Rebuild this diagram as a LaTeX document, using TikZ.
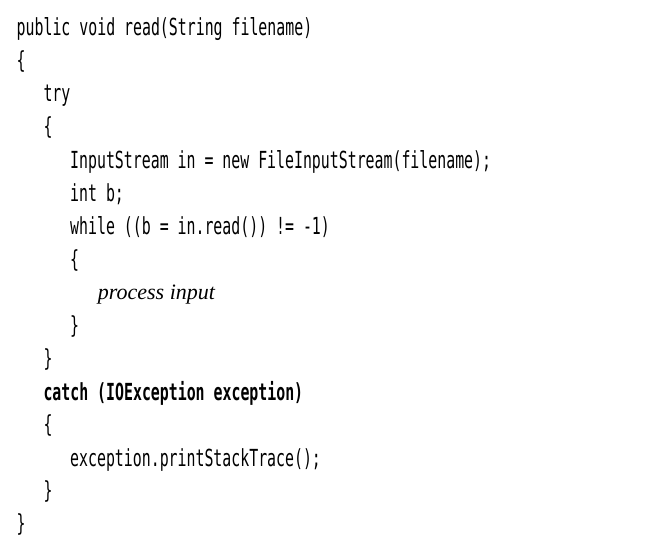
\documentclass[tikz,border=0pt]{standalone}
\usepackage{fontspec}
\newfontfamily\codefont[FakeStretch=0.633]{DejaVu Sans Mono}
\newfontfamily\notefont{Liberation Serif}

\begin{document}
\begin{tikzpicture}[x=1pt,y=-1pt]
        \tikzstyle{code} = [anchor=base west, inner sep=0pt, font={\codefont\fontsize{23.5}{28}\selectfont}]
        \tikzstyle{note} = [anchor=base west, inner sep=0pt, font={\notefont\itshape\fontsize{22}{26}\selectfont}]

        \useasboundingbox[fill=white] (0,0) rectangle (652,553);

        % method header
        \node[code] (head) at (16.5,35.5) {public void read(String filename)};
        \node[code] (open) at (16.5,68.5) {\{};

        % try block
        \node[code] (try) at (43.3,101.5) {try};
        \node[code] (tryopen) at (43.3,134.5) {\{};
        \node[code] (stream) at (70,168.5) {InputStream in = new FileInputStream(filename);};
        \node[code] (intb) at (70,201.5) {int b;};
        \node[code] (while) at (70,234.5) {while ((b = in.read()) != -1)};
        \node[code] (whileopen) at (70,267.5) {\{};
        \node[note] (process) at (97.7,299.5) {process input};
        \node[code] (whileclose) at (70,333) {\}};
        \node[code] (tryclose) at (43.3,366) {\}};

        % catch block
        \node[code,font={\codefont\bfseries\fontsize{23.5}{28}\selectfont}] (catch) at (43.3,400) {catch (IOException exception)};
        \node[code] (catchopen) at (43.3,432.5) {\{};
        \node[code] (trace) at (70,466) {exception.printStackTrace();};
        \node[code] (catchclose) at (43.3,498.5) {\}};
        \node[code] (close) at (16.5,531.5) {\}};

\end{tikzpicture}
\end{document}
